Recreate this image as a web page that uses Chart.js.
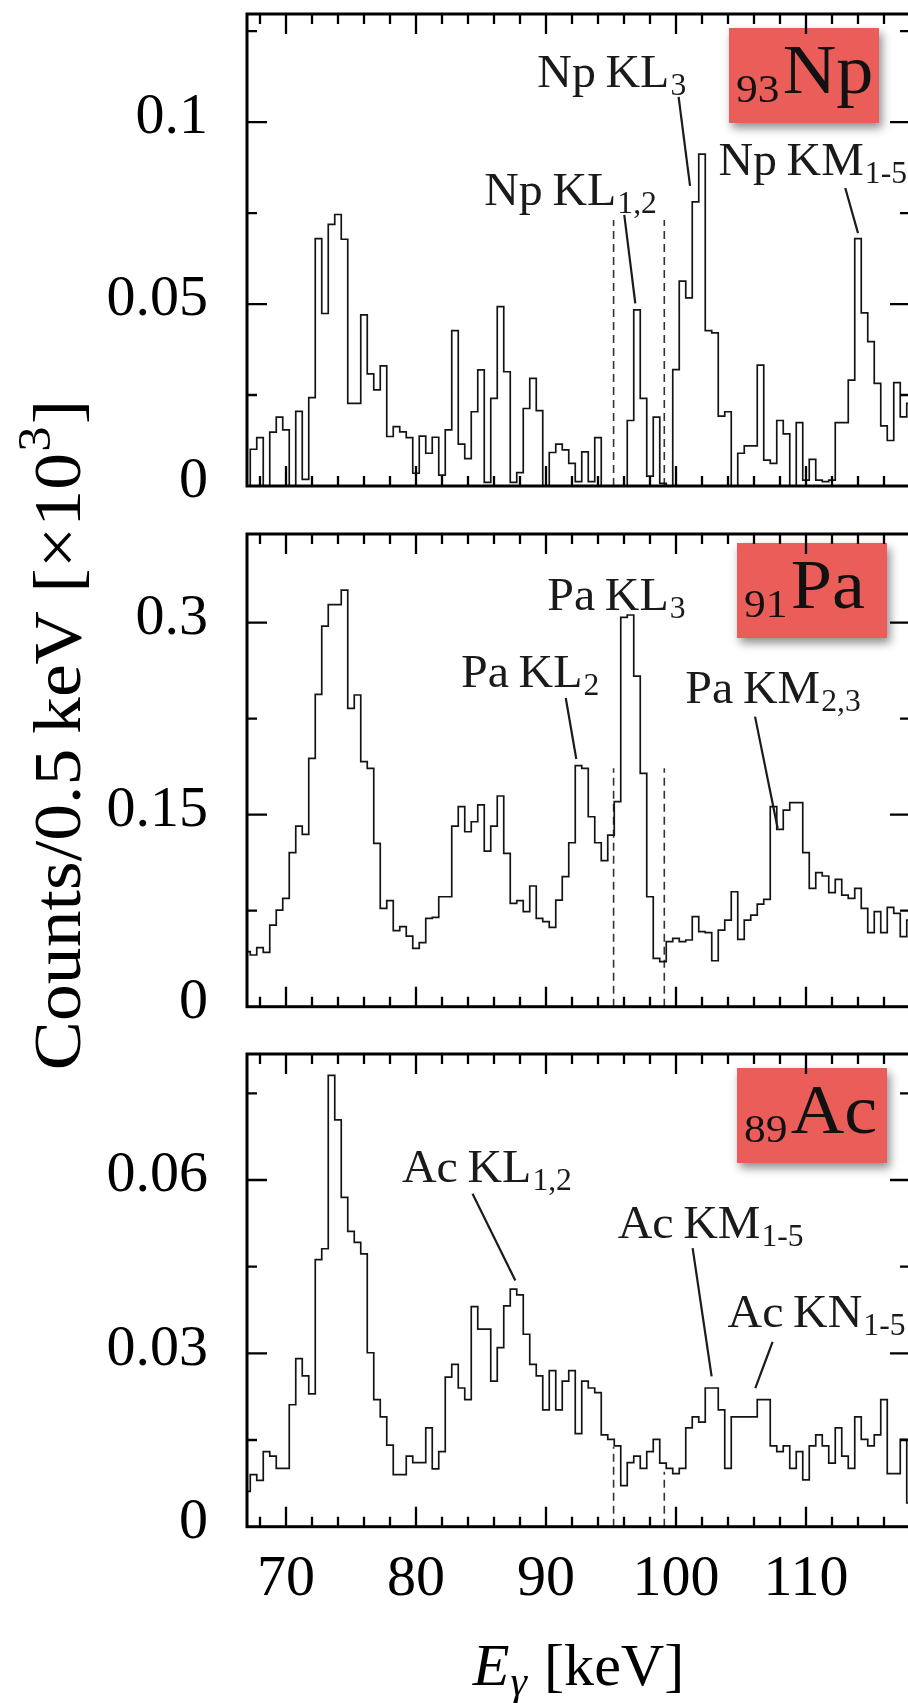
<!DOCTYPE html>
<html>
<head>
<meta charset="utf-8">
<title>K X-ray spectra of Np, Pa and Ac</title>
<script src="https://cdn.jsdelivr.net/npm/chart.js@4.4.1/dist/chart.umd.min.js"></script>
<style>
  html, body { margin: 0; padding: 0; background: #fff; width: 908px; height: 1703px; overflow: hidden; }
  canvas.panel { position: absolute; left: 0; top: 0; }
</style>
</head>
<body>
<canvas id="np" class="panel" width="960" height="1703"></canvas>
<canvas id="pa" class="panel" width="960" height="1703"></canvas>
<canvas id="ac" class="panel" width="960" height="1703"></canvas>
<script>
// ---- data -------------------------------------------------------------
// Bin centres of the 0.5 keV histogram [keV]
const energyKeV = [
  67.0, 67.5, 68.0, 68.5, 69.0, 69.5, 70.0, 70.5, 71.0, 71.5,
  72.0, 72.5, 73.0, 73.5, 74.0, 74.5, 75.0, 75.5, 76.0, 76.5,
  77.0, 77.5, 78.0, 78.5, 79.0, 79.5, 80.0, 80.5, 81.0, 81.5,
  82.0, 82.5, 83.0, 83.5, 84.0, 84.5, 85.0, 85.5, 86.0, 86.5,
  87.0, 87.5, 88.0, 88.5, 89.0, 89.5, 90.0, 90.5, 91.0, 91.5,
  92.0, 92.5, 93.0, 93.5, 94.0, 94.5, 95.0, 95.5, 96.0, 96.5,
  97.0, 97.5, 98.0, 98.5, 99.0, 99.5, 100.0, 100.5, 101.0, 101.5,
  102.0, 102.5, 103.0, 103.5, 104.0, 104.5, 105.0, 105.5, 106.0, 106.5,
  107.0, 107.5, 108.0, 108.5, 109.0, 109.5, 110.0, 110.5, 111.0, 111.5,
  112.0, 112.5, 113.0, 113.5, 114.0, 114.5, 115.0, 115.5, 116.0, 116.5,
  117.0, 117.5, 118.0
];

// Counts per 0.5 keV [x10^3]
const npCounts = [
  0, 0.0101, 0.0133, 0, 0.0148, 0.0189, 0.0154, 0, 0.0205, 0.0018,
  0.0243, 0.068, 0.0474, 0.0719, 0.0746, 0.0678, 0.0227, 0.0227, 0.047, 0.0308,
  0.0264, 0.033, 0.0136, 0.0163, 0.0149, 0.0133, 0.0035, 0.0137, 0.009, 0.0134,
  0.003, 0.0154, 0.0427, 0.0115, 0.0075, 0.0204, 0.0319, 0.001, 0.0241, 0.0493,
  0.0314, 0.001, 0.0037, 0.0213, 0.0296, 0.0207, 0, 0.0092, 0.0115, 0.0099,
  0.0062, 0.0012, 0.0094, 0.0012, 0.0133, 0, 0, 0, 0, 0.018,
  0.0484, 0.0241, 0.0027, 0.0189, 0.0007, 0, 0.032, 0.0563, 0.0517, 0.0781,
  0.0912, 0.0427, 0.0421, 0.0192, 0.0204, 0, 0.009, 0.011, 0.011, 0.0332,
  0.0071, 0.0062, 0.018, 0.0143, 0, 0.0174, 0.0016, 0.0073, 0.0016, 0.0012,
  0.0016, 0.0174, 0.0174, 0.0291, 0.068, 0.0476, 0.0397, 0.0282, 0.0165, 0.0125,
  0.0284, 0.019, 0.0227
];
const paCounts = [
  0.043, 0.0404, 0.0461, 0.0424, 0.0638, 0.0755, 0.0846, 0.1203, 0.1411, 0.1346,
  0.194, 0.244, 0.2974, 0.3141, 0.3141, 0.3255, 0.2331, 0.2435, 0.1914, 0.1862,
  0.1276, 0.0768, 0.0828, 0.0594, 0.0625, 0.0552, 0.0456, 0.05, 0.069, 0.0698,
  0.0859, 0.0859, 0.1411, 0.1563, 0.1367, 0.1445, 0.1576, 0.1216, 0.1411, 0.1646,
  0.1198, 0.0807, 0.0828, 0.0742, 0.0943, 0.069, 0.0664, 0.062, 0.0833, 0.1016,
  0.1281, 0.1883, 0.1862, 0.1484, 0.1281, 0.1141, 0.1341, 0.1602, 0.3042, 0.306,
  0.2583, 0.1823, 0.0859, 0.0378, 0.0352, 0.0508, 0.0534, 0.0508, 0.0521, 0.0703,
  0.0586, 0.0578, 0.0359, 0.0599, 0.0677, 0.0898, 0.0526, 0.0677, 0.0716, 0.0802,
  0.0839, 0.1563, 0.1385, 0.1536, 0.1594, 0.1594, 0.1203, 0.0924, 0.1047, 0.1021,
  0.0891, 0.0995, 0.0872, 0.0846, 0.0924, 0.0768, 0.0578, 0.0742, 0.0578, 0.0776,
  0.0729, 0.0547, 0.0677
];
const acCounts = [
  0.0061, 0.009, 0.008, 0.013, 0.0122, 0.0101, 0.0101, 0.0211, 0.0291, 0.0261,
  0.023, 0.0462, 0.0481, 0.0781, 0.0704, 0.057, 0.0511, 0.0492, 0.0472, 0.0301,
  0.022, 0.019, 0.0141, 0.009, 0.009, 0.0122, 0.0111, 0.0111, 0.0171, 0.01,
  0.013, 0.0259, 0.0281, 0.024, 0.022, 0.0381, 0.0342, 0.0342, 0.0252, 0.031,
  0.0382, 0.0411, 0.0401, 0.0333, 0.0281, 0.0261, 0.0202, 0.027, 0.0202, 0.0252,
  0.027, 0.0161, 0.0252, 0.024, 0.0232, 0.0159, 0.0151, 0.014, 0.0071, 0.0111,
  0.0122, 0.0101, 0.013, 0.0151, 0.011, 0.0101, 0.0092, 0.0101, 0.0171, 0.019,
  0.0181, 0.024, 0.024, 0.0202, 0.0101, 0.019, 0.019, 0.019, 0.019, 0.022,
  0.022, 0.014, 0.013, 0.014, 0.0101, 0.013, 0.0081, 0.014, 0.0159, 0.014,
  0.011, 0.0171, 0.0122, 0.0101, 0.019, 0.0151, 0.014, 0.0159, 0.022, 0.0092,
  0.0092, 0.0151, 0.0041
];

// Axis ticks
const xTickValues = [70, 80, 90, 100, 110];
const npYTicks = [0, 0.05, 0.1];
const paYTicks = [0, 0.15, 0.3];
const acYTicks = [0, 0.03, 0.06];

// Integration window (dashed markers) and marker heights per element
const windowEdges = [95.2, 99.1];
const npWindowTops = [0.0731, 0.0731];
const paWindowTops = [0.1862, 0.1862];
const acWindowTops = [0.0138, 0.0095];

// Line identifications: text anchor and leader line, in (keV, counts)
const npNotes = [
  { text: 'Np\u2009KL', sub: '3',   pos: [89.33, 0.1097], lead: [[100.2, 0.1069], [101.08, 0.0825]] },
  { text: 'Np\u2009KL', sub: '1,2', pos: [85.25, 0.0772], lead: [[96.02, 0.0745], [96.87, 0.0502]] },
  { text: 'Np\u2009KM', sub: '1-5', pos: [103.26, 0.0854], lead: [[113.02, 0.0819], [114.0, 0.0695]] }
];
const paNotes = [
  { text: 'Pa\u2009KL', sub: '3',   pos: [90.1, 0.310] },
  { text: 'Pa\u2009KL', sub: '2',   pos: [83.46, 0.25], lead: [[91.52, 0.2412], [92.33, 0.1935]] },
  { text: 'Pa\u2009KM', sub: '2,3', pos: [100.72, 0.2375], lead: [[106.08, 0.2266], [107.82, 0.1394]] }
];
const acNotes = [
  { text: 'Ac\u2009KL', sub: '1,2', pos: [78.92, 0.0597], lead: [[84.35, 0.0576], [87.64, 0.0426]] },
  { text: 'Ac\u2009KM', sub: '1-5', pos: [95.51, 0.0499], lead: [[101.28, 0.0482], [102.74, 0.026]] },
  { text: 'Ac\u2009KN', sub: '1-5', pos: [103.97, 0.0345], lead: [[107.43, 0.032], [106.1, 0.024]] }
];

// ---- layout & style ---------------------------------------------------
const CANVAS_W = 960, CANVAS_H = 1703;
const PLOT_LEFT = 247, PLOT_RIGHT = 910;
const X_AXIS_H = 100;
const SERIF = "'Liberation Serif', 'Times New Roman', serif";
const INK = '#000';
const BADGE_RED = '#EB5D58';
const MAJOR_TICK = 20, MINOR_TICK = 10;
const TEXT_SX = 1.02;
const TITLE_SX = 1.1;

function fontOf(p) {
  return (p.italic ? 'italic ' : '') + p.size + 'px ' + SERIF;
}
function richWidth(ctx, parts) {
  let w = 0;
  for (const p of parts) { ctx.font = fontOf(p); w += ctx.measureText(p.t).width + (p.gap || 0); }
  return w;
}
function drawRich(ctx, x, y, parts, sx) {
  ctx.save();
  ctx.translate(x, y);
  ctx.scale(sx || 1, 1);
  ctx.textAlign = 'left';
  ctx.textBaseline = 'alphabetic';
  let cx = 0;
  for (const p of parts) {
    ctx.font = fontOf(p);
    cx += (p.gap || 0);
    ctx.fillText(p.t, cx, p.dy || 0);
    cx += ctx.measureText(p.t).width;
  }
  ctx.restore();
}

const panelDecor = {
  id: 'panelDecor',
  afterDraw(chart, args, o) {
    const ctx = chart.ctx;
    const a = chart.chartArea;
    const xs = chart.scales.x, ys = chart.scales.y;
    ctx.save();
    ctx.fillStyle = INK;

    // element badge with drop shadow
    const bw = 150, bh = 95;
    const bx = a.right - o.badge.right - bw, by = a.top + o.badge.top;
    ctx.save();
    ctx.shadowColor = 'rgba(0,0,0,0.45)';
    ctx.shadowBlur = 9;
    ctx.shadowOffsetX = 3;
    ctx.shadowOffsetY = 5;
    ctx.fillStyle = BADGE_RED;
    ctx.fillRect(bx, by, bw, bh);
    ctx.restore();
    ctx.fillStyle = '#111';
    drawRich(ctx, bx + 7, by + 65, [
      { t: o.badge.z, size: 41, dy: 9 },
      { t: o.badge.sym, size: 70, gap: 3 }
    ], 1.06);

    // frame
    ctx.strokeStyle = INK;
    ctx.lineWidth = 3;
    ctx.strokeRect(a.left, a.top, a.right - a.left, a.bottom - a.top);

    // inward tick marks on all four sides
    ctx.lineWidth = 2.3;
    ctx.beginPath();
    for (let v = 68; v < 118; v += 2) {
      const px = xs.getPixelForValue(v);
      const len = xTickValues.includes(v) ? MAJOR_TICK : MINOR_TICK;
      ctx.moveTo(px, a.bottom); ctx.lineTo(px, a.bottom - len);
      ctx.moveTo(px, a.top); ctx.lineTo(px, a.top + len);
    }
    for (let k = 1; k * o.yStep < ys.max; k++) {
      const v = k * o.yStep;
      const py = ys.getPixelForValue(v);
      const major = o.yTicks.some(t => Math.abs(t - v) < 1e-9);
      const len = major ? MAJOR_TICK : MINOR_TICK;
      ctx.moveTo(a.left, py); ctx.lineTo(a.left + len, py);
      ctx.moveTo(a.right, py); ctx.lineTo(a.right - len, py);
    }
    ctx.stroke();

    // line identifications
    ctx.strokeStyle = '#1a1a1a';
    ctx.lineWidth = 2.2;
    ctx.fillStyle = '#1a1a1a';
    for (const n of o.notes) {
      const tx = xs.getPixelForValue(n.pos[0]), ty = ys.getPixelForValue(n.pos[1]);
      drawRich(ctx, tx, ty, [
        { t: n.text, size: 47 },
        { t: n.sub, size: 31, dy: 8, gap: 1 }
      ], TEXT_SX);
      if (n.lead) {
        ctx.beginPath();
        ctx.moveTo(xs.getPixelForValue(n.lead[0][0]), ys.getPixelForValue(n.lead[0][1]));
        ctx.lineTo(xs.getPixelForValue(n.lead[1][0]), ys.getPixelForValue(n.lead[1][1]));
        ctx.stroke();
      }
    }

    ctx.fillStyle = INK;
    // common y-axis title
    if (o.yTitle) {
      const parts = [
        { t: 'Counts/0.5\u2009keV [\u00d710', size: 67 },
        { t: '3', size: 46, dy: -30, gap: 1 },
        { t: ']', size: 67, gap: 2 }
      ];
      const w = richWidth(ctx, parts) * TITLE_SX;
      ctx.save();
      ctx.translate(80, 735);
      ctx.rotate(-Math.PI / 2);
      drawRich(ctx, -w / 2, 0, parts, TITLE_SX);
      ctx.restore();
    }
    // x-axis title
    if (o.xTitle) {
      const parts = [
        { t: 'E', size: 59, italic: true },
        { t: '\u03b3', size: 41, italic: true, dy: 10, gap: 1 },
        { t: ' [keV]', size: 59, gap: 2 }
      ];
      const w = richWidth(ctx, parts) * TEXT_SX;
      drawRich(ctx, (a.left + a.right) / 2 - w / 2, 1685, parts, TEXT_SX);
    }
    ctx.restore();
  }
};

function makePanel(id, cfg) {
  const datasets = [{
    data: energyKeV.map((e, i) => ({ x: e, y: cfg.counts[i] })),
    stepped: 'middle',
    borderColor: '#141414',
    borderWidth: 1.7,
    pointRadius: 0,
    fill: false
  }];
  windowEdges.forEach((edge, k) => {
    datasets.push({
      data: [{ x: edge, y: 0 }, { x: edge, y: cfg.windowTops[k] }],
      borderColor: '#333',
      borderWidth: 1.6,
      borderDash: [8, 5],
      pointRadius: 0,
      fill: false
    });
  });

  const tickFont = { family: SERIF, size: 58 };
  return new Chart(document.getElementById(id), {
    type: 'line',
    data: { datasets },
    options: {
      responsive: false,
      animation: false,
      devicePixelRatio: 1,
      layout: {
        padding: {
          left: 0,
          top: cfg.top,
          right: CANVAS_W - PLOT_RIGHT,
          bottom: CANVAS_H - cfg.bottom - (cfg.showX ? X_AXIS_H : 0)
        }
      },
      plugins: {
        legend: { display: false },
        tooltip: { enabled: false },
        panelDecor: {
          notes: cfg.notes, badge: cfg.badge, yStep: cfg.yStep, yTicks: cfg.yTicks,
          yTitle: !!cfg.yTitle, xTitle: !!cfg.showX
        }
      },
      scales: {
        x: {
          type: 'linear',
          min: 67, max: 118,
          display: !!cfg.showX,
          grid: { display: false, drawTicks: false },
          border: { display: false },
          ticks: {
            font: tickFont, color: INK, padding: 18, maxRotation: 0,
            callback: v => String(v)
          },
          afterBuildTicks: s => { s.ticks = xTickValues.map(v => ({ value: v })); },
          afterFit: s => {
            s.height = cfg.showX ? X_AXIS_H : 0;
            s.paddingLeft = 0; s.paddingRight = 0;
          }
        },
        y: {
          type: 'linear',
          min: 0, max: cfg.yMax,
          grid: { display: false, drawTicks: false },
          border: { display: false },
          ticks: {
            font: tickFont, color: INK, padding: 39, labelOffset: -4,
            callback: v => String(+Number(v).toFixed(3))
          },
          afterBuildTicks: s => { s.ticks = cfg.yTicks.map(v => ({ value: v })); },
          afterFit: s => { s.width = PLOT_LEFT; s.paddingTop = 0; s.paddingBottom = 0; }
        }
      }
    },
    plugins: [panelDecor]
  });
}

makePanel('np', {
  counts: npCounts, windowTops: npWindowTops, notes: npNotes,
  top: 14, bottom: 486, yMax: 0.1297, yStep: 0.025, yTicks: npYTicks,
  badge: { z: '93', sym: 'Np', right: 31, top: 14 }
});
makePanel('pa', {
  counts: paCounts, windowTops: paWindowTops, notes: paNotes,
  top: 534, bottom: 1006.7, yMax: 0.3693, yStep: 0.075, yTicks: paYTicks,
  badge: { z: '91', sym: 'Pa', right: 23, top: 9 }, yTitle: true
});
makePanel('ac', {
  counts: acCounts, windowTops: acWindowTops, notes: acNotes,
  top: 1054, bottom: 1526.7, yMax: 0.0818, yStep: 0.015, yTicks: acYTicks,
  badge: { z: '89', sym: 'Ac', right: 23, top: 14 }, showX: true
});
</script>
</body>
</html>
